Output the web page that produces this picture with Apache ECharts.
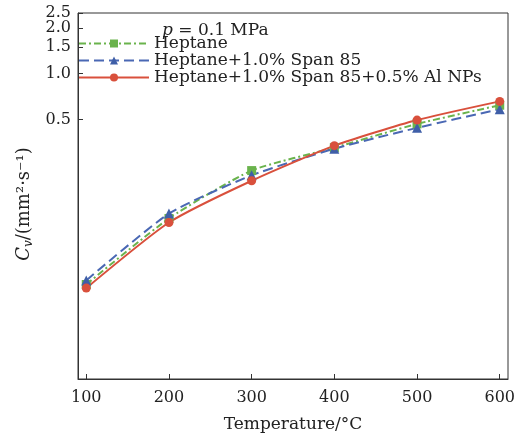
<!DOCTYPE html>
<html><head><meta charset="utf-8">
<script src="https://cdn.jsdelivr.net/npm/echarts@6/dist/echarts.min.js"></script>
<style>html,body{margin:0;padding:0;background:#fff}#c{width:520px;height:438px}</style>
</head><body><div id="c"></div>
<script>
var temps = [100, 200, 300, 400, 500, 600];
var heptane = [0.0416, 0.1127, 0.232, 0.328, 0.469, 0.622];
var span85 = [0.0442, 0.1213, 0.216, 0.323, 0.442, 0.586];
var alNPs = [0.0394, 0.106, 0.199, 0.338, 0.497, 0.659];
var xTicks = [100, 200, 300, 400, 500, 600];
var yTicks = [0.5, 1.0, 1.5, 2.0, 2.5];
var seriesNames = ['Heptane', 'Heptane+1.0% Span 85', 'Heptane+1.0% Span 85+0.5% Al NPs'];

var FONT = 'DejaVu Serif';
function pairs(ys){ return temps.map(function(t,i){return [t, ys[i]];}); }
function yLabelFmt(v){ return Number(v).toFixed(1); }
var chart = echarts.init(document.getElementById('c'), null, {renderer:'canvas'});
chart.setOption({
  animation:false,
  textStyle:{fontFamily:FONT},
  grid:{left:78, right:12, top:13, bottom:58, show:true, borderColor:'#333', borderWidth:1, backgroundColor:'transparent'},
  title:{text:'{i|p} = 0.1 MPa', left:157, top:17, textStyle:{fontFamily:FONT, fontSize:17, fontWeight:'normal', color:'#222', rich:{i:{fontFamily:FONT, fontStyle:'italic', fontSize:17, color:'#222'}}}},
  legend:{orient:'vertical', left:78, top:35, itemWidth:70, itemHeight:10, itemGap:0, padding:0,
    textStyle:{fontFamily:FONT, fontSize:17, color:'#222'}, data:seriesNames},
  xAxis:{type:'value', min:90, max:610, name:'Temperature/°C', nameLocation:'middle', nameGap:37,
    nameTextStyle:{fontFamily:FONT, fontSize:17, color:'#222'},
    axisLine:{lineStyle:{color:'#333'}}, splitLine:{show:false},
    axisTick:{inside:true, length:5, customValues:xTicks, lineStyle:{color:'#333'}},
    axisLabel:{customValues:xTicks, fontFamily:FONT, fontSize:16, color:'#222', margin:11}},
  yAxis:[
   {type:'log', min:0.01, max:2.5, name:'{c|C}{s|v}/(mm²·s⁻¹)', nameLocation:'middle', nameGap:29, nameRotate:90,
    nameTextStyle:{fontFamily:FONT, fontSize:18, color:'#222', padding:[0,16,0,0], rich:{c:{fontFamily:FONT, fontStyle:'italic', fontSize:18, color:'#222'}, s:{fontFamily:FONT, fontStyle:'italic', fontSize:12, color:'#222', verticalAlign:'bottom', padding:[9,0,0,0]}}},
    axisLine:{lineStyle:{color:'#333'}}, splitLine:{show:false}, minorTick:{show:false},
    axisTick:{inside:true, length:5, customValues:yTicks, lineStyle:{color:'#333'}},
    axisLabel:{customValues:yTicks.slice(0,4), fontFamily:FONT, fontSize:16, color:'#222', margin:7, formatter:yLabelFmt}},
   {type:'log', min:0.01, max:2.5, position:'left', offset:0,
    axisLine:{show:false}, splitLine:{show:false}, minorTick:{show:false}, axisTick:{show:false},
    axisLabel:{customValues:yTicks.slice(4), showMaxLabel:true, fontFamily:FONT, fontSize:16, color:'#222', margin:7, formatter:yLabelFmt}}
  ],
  series:[
    {name:seriesNames[0], type:'line', data:pairs(heptane), smooth:0.2, symbol:'rect', symbolSize:9,
     itemStyle:{color:'#6ab34c'}, lineStyle:{color:'#6ab34c', width:2, type:[7,3,2,3]}},
    {name:seriesNames[1], type:'line', data:pairs(span85), smooth:0.2, symbol:'triangle', symbolSize:10,
     itemStyle:{color:'#3f5fa8'}, lineStyle:{color:'#4a68b4', width:2, type:[10,5]}},
    {name:seriesNames[2], type:'line', data:pairs(alNPs), smooth:0.2, symbol:'circle', symbolSize:9,
     itemStyle:{color:'#d9503c'}, lineStyle:{color:'#d9503c', width:2, type:'solid'}}
  ]
});
</script></body></html>
